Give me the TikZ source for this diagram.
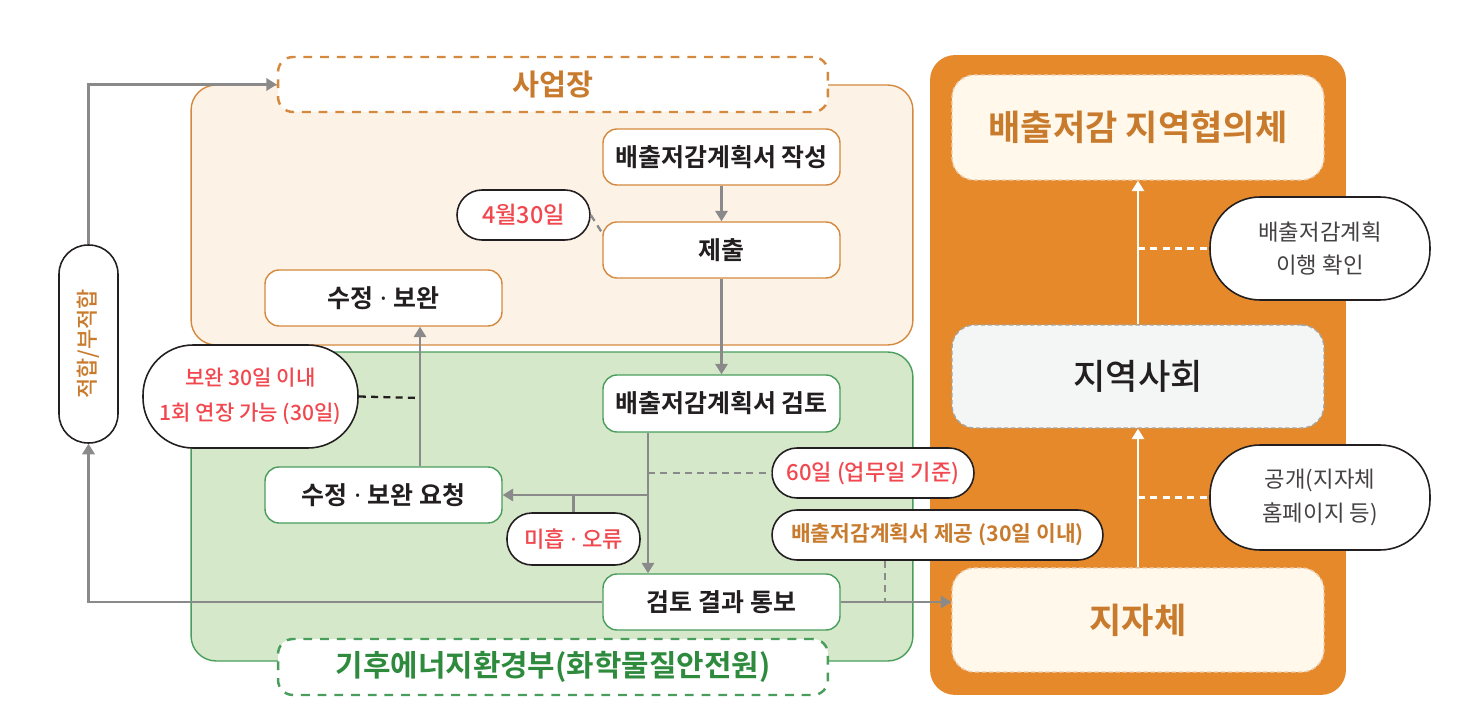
\documentclass[tikz,border=0pt]{standalone}
\usepackage{fontspec}
\setmainfont{Noto Sans CJK KR}[BoldFont={Noto Sans CJK KR Bold}]
\newfontfamily\krmedium{Noto Sans CJK KR Medium}
\newfontfamily\latinfont{Noto Sans}
\newcommand{\mdot}{{\latinfont\ ·\ }}
\usetikzlibrary{arrows.meta}
\definecolor{peach}{HTML}{FDF2E6}
\definecolor{peachline}{HTML}{D4893E}
\definecolor{mint}{HTML}{D5E8C9}
\definecolor{mintline}{HTML}{4A9E5C}
\definecolor{leaf}{HTML}{2E8B3E}
\definecolor{amber}{HTML}{C97B2D}
\definecolor{tangerine}{HTML}{E6892B}
\definecolor{cream}{HTML}{FFF8EB}
\definecolor{fog}{HTML}{F4F6F5}
\definecolor{coral}{HTML}{F0484E}
\definecolor{flowgray}{HTML}{8A8A8A}
\definecolor{ink}{HTML}{231F20}
\begin{document}
\begin{tikzpicture}[x=0.02cm,y=-0.02cm,
  zone/.style={rounded corners=0.5cm, line width=0.8pt, minimum width=14.44cm},
  tag/.style={draw, line width=1.4pt, dash pattern=on 5pt off 4.5pt, fill=white, rounded corners=0.3cm, minimum width=11cm, minimum height=1.1cm, font=\bfseries\fontsize{16.7}{20}\selectfont},
  stepbox/.style={draw, fill=white, line width=0.8pt, rounded corners=0.28cm, minimum width=4.74cm, minimum height=1.12cm, text=ink, font=\bfseries\fontsize{14.2}{17}\selectfont},
  pill/.style={draw=ink, fill=white, line width=0.9pt, rounded corners=0.5cm, minimum height=1cm, font=\krmedium\fontsize{12.6}{15}\selectfont},
  bubble/.style={draw=ink, fill=white, line width=0.9pt, rounded corners=1cm, align=center, minimum height=2.06cm},
  panelbox/.style={line width=0.8pt, dash pattern=on 2.5pt off 1.5pt, rounded corners=0.45cm, minimum width=7.44cm, font=\bfseries\fontsize{20}{24}\selectfont},
  arr/.style={draw=flowgray, line width=1.5pt, -{Triangle[width=7pt,length=6pt]}},
  warr/.style={draw=white, line width=1.5pt, -{Triangle[width=7pt,length=6pt]}},
  link/.style={draw=flowgray, line width=1.3pt, dash pattern=on 4pt off 3pt}]
\useasboundingbox (0,0) rectangle (1468,726);

% zones
\node[zone, draw=peachline, fill=peach, minimum height=5.2cm] (zoneA) at (552,215){};
\node[zone, draw=mintline, fill=mint, minimum height=6.18cm] (zoneB) at (552,506.5){};
\node[tag, draw=peachline, text=amber] (siteLbl) at (553,84.5){사업장};
\node[tag, draw=mintline, text=leaf, minimum height=1.12cm, font=\bfseries\fontsize{17}{20}\selectfont] (meLbl) at (553,667){기후에너지환경부(화학물질안전원)};

% right panel
\node[fill=tangerine, rounded corners=0.5cm, minimum width=8.32cm, minimum height=12.8cm] (panel) at (1138,375){};
\node[panelbox, draw=peachline!40, fill=cream, text=amber, minimum height=2.1cm] (council) at (1138,127.5){배출저감 지역협의체};
\node[panelbox, draw=gray!70, fill=fog, text=ink, font=\krmedium\fontsize{20}{24}\selectfont, minimum height=2.06cm] (community) at (1138,376.5){지역사회};
\node[panelbox, draw=peachline!40, fill=cream, text=amber, minimum height=2.08cm] (localgov) at (1138,620){지자체};
\node[bubble, minimum width=4.4cm, text=ink!85, font=\fontsize{12.7}{19}\selectfont] (check) at (1320,248.5){배출저감계획\\이행 확인};
\node[bubble, minimum width=4.4cm, minimum height=2.1cm, text=ink!85, font=\fontsize{12.7}{19}\selectfont] (publish) at (1320,497.5){공개(지자체\\홈페이지 등)};
\draw[warr] (localgov.north) -- (community.south);
\draw[warr] (community.north) -- (council.south);
\draw[white, line width=1.3pt, dash pattern=on 4pt off 3pt] (check.west -| council.south) -- (check.west);
\draw[white, line width=1.3pt, dash pattern=on 4pt off 3pt] (publish.west -| council.south) -- (publish.west);

% workplace steps
\node[stepbox, draw=peachline] (write) at (721.5,157){배출저감계획서 작성};
\node[stepbox, draw=peachline] (submit) at (721.5,250){제출};
\node[pill, text=coral, minimum width=2.66cm, font=\krmedium\fontsize{13.3}{16}\selectfont] (deadline) at (523.5,215){4월30일};
\node[stepbox, draw=peachline] (revise) at (383.5,298){수정\mdot 보완};
\draw[arr] (write) -- (submit);
\draw[link] (deadline.east) -- (submit.172);

% ministry steps
\node[stepbox, draw=mintline, minimum height=1.14cm] (review) at (721.5,403.5){배출저감계획서 검토};
\node[stepbox, draw=mintline] (request) at (383.5,495){수정\mdot 보완 요청};
\node[stepbox, draw=mintline] (result) at (721.5,602){검토 결과 통보};
\node[bubble, text=coral, minimum width=4.3cm, font=\krmedium\fontsize{12}{20}\selectfont] (extend) at (250.5,396.5){보완 30일 이내\\1회 연장 가능 (30일)};
\node[pill, text=coral, minimum width=2.66cm, minimum height=1.04cm] (flaw) at (573.5,539){미흡\mdot 오류};
\node[pill, text=coral, minimum width=4.04cm] (days60) at (873,473){60일 (업무일 기준)};
\node[pill, text=amber, minimum width=6.62cm, font=\bfseries\fontsize{12.2}{15}\selectfont] (provide) at (937.5,535){배출저감계획서 제공 (30일 이내)};
\node[draw=ink, fill=white, line width=0.9pt, rounded corners=0.58cm, minimum width=1.18cm, minimum height=3.96cm] (fit) at (88.5,344){};
\node[rotate=90, text=amber, font=\krmedium\fontsize{12.5}{14}\selectfont] (fitTxt) at (fit.center){적합/부적합};

\coordinate (split) at (648,495);
\coordinate (riser) at (420,398);
\coordinate (drop) at (885,602);
\draw[arr] (submit) -- (review);
\draw[arr] (review.south -| split) -- (result.north -| split);
\draw[arr] (split) -- (request.east);
\draw[draw=flowgray, line width=1.5pt] (flaw.north) -- (flaw.north |- split);
\draw[link] (days60.west -| split) -- (days60.west);
\draw[arr] (request.north -| riser) -- (revise.south -| riser);
\draw[draw=ink, line width=1.3pt, dash pattern=on 4pt off 3pt] (extend.east) -- (riser);
\draw[link] (provide.south -| drop) -- (drop);
\draw[arr] (result.east) -- (result.east -| localgov.west);
\draw[arr] (result.west) -- (fit.south |- result.west) -- (fit.south);
\draw[arr] (fit.north) |- (siteLbl.west);
\end{tikzpicture}
\end{document}
